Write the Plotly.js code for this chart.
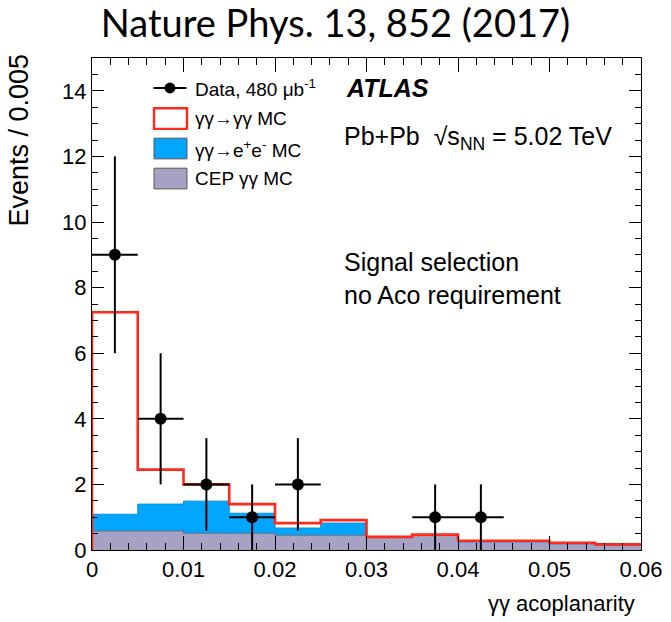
<!DOCTYPE html>
<html><head><meta charset="utf-8">
<script src="https://cdn.plot.ly/plotly-3.0.1.min.js"></script>
<style>body{margin:0;background:#fff}#c{width:671px;height:622px}</style>
</head><body><div id="c"></div>
<script>
// bin edges of the acoplanarity histogram (bin width 0.005)
const binEdges = [0,0.005,0.010,0.015,0.020,0.025,0.030,0.035,0.040,0.045,0.050,0.055,0.060];
// MC components per bin (stacked)
const cepMC    = [0.58,0.58,0.51,0.51,0.45,0.45,0.38,0.44,0.25,0.25,0.19,0.15];
const eeMC     = [0.51,0.82,0.98,0.61,0.22,0.37,0.02,0.02,0.00,0.00,0.00,0.00];
const signalMC = [6.16,1.05,0.51,0.28,0.15,0.09,0.00,0.01,0.03,0.03,0.03,0.02];
// data points
const dataX    = [0.0025,0.0075,0.0125,0.0175,0.0225,0.0375,0.0425];
const dataY    = [9,4,2,1,2,1,1];
const dataErr  = [3,2,1.41,1,1.41,1,1];
const dataXErr = [0.0025,0.0025,0.0025,0.0025,0.0025,0.0025,0.0025];
const xTicks = [0,0.01,0.02,0.03,0.04,0.05,0.06];
const xTickText = ["0","0.01","0.02","0.03","0.04","0.05","0.06"];
const yTicks = [0,2,4,6,8,10,12,14];

function stepY(v){ return v.concat([v[v.length-1]]); }
const lvlCep = cepMC.slice();
const lvlEe = cepMC.map((c,i)=>c+eeMC[i]);
const lvlTot = lvlEe.map((c,i)=>c+signalMC[i]);

const traces = [
  {x:binEdges, y:stepY(lvlCep), type:'scatter', mode:'lines', line:{shape:'hv', color:'#6e6985', width:1},
   fill:'tozeroy', fillcolor:'#a7a1c3', hoverinfo:'skip'},
  {x:binEdges, y:stepY(lvlEe), type:'scatter', mode:'lines', line:{shape:'hv', color:'#0a8fe0', width:1},
   fill:'tonexty', fillcolor:'#02a6fc', hoverinfo:'skip'},
  {x:[0].concat(binEdges), y:[0].concat(stepY(lvlTot)), type:'scatter', mode:'lines',
   line:{shape:'hv', color:'#ff2a1a', width:2.6}, hoverinfo:'skip'},
  {x:dataX, y:dataY, type:'scatter', mode:'markers', marker:{color:'#000', size:12},
   error_y:{type:'data', array:dataErr, color:'#000', thickness:2, width:0},
   error_x:{type:'data', array:dataXErr, color:'#000', thickness:2, width:0}}
];

const F = 'Liberation Sans, Arial, sans-serif';
const shapes = [
  {type:'line', xref:'paper', yref:'paper', x0:0.112, x1:0.172, y0:0.939, y1:0.939, line:{color:'#000', width:2}},
  {type:'circle', xref:'paper', yref:'paper', x0:0.132, x1:0.152, y0:0.928, y1:0.950, fillcolor:'#000', line:{width:0}},
  {type:'rect', xref:'paper', yref:'paper', x0:0.113, x1:0.173, y0:0.856, y1:0.898, fillcolor:'#fff', line:{color:'#ff2a1a', width:2.4}},
  {type:'rect', xref:'paper', yref:'paper', x0:0.113, x1:0.173, y0:0.795, y1:0.837, fillcolor:'#02a6fc', line:{color:'#555', width:1}},
  {type:'rect', xref:'paper', yref:'paper', x0:0.113, x1:0.173, y0:0.734, y1:0.776, fillcolor:'#a7a1c3', line:{color:'#555', width:1}}
];
const ann = (x,y,text,size,extra)=>Object.assign({xref:'paper', yref:'paper', x:x, y:y, text:text, showarrow:false,
  xanchor:'left', yanchor:'middle', font:{family:F, size:size, color:'#000'}}, extra||{});
const annotations = [
  ann(0.184,0.939,'Data, 480 μb<sup>-1</sup>',19),
  ann(0.184,0.877,'γγ→γγ MC',19),
  ann(0.184,0.816,'γγ→e<sup>+</sup>e<sup>-</sup> MC',19),
  ann(0.184,0.755,'CEP γγ MC',19),
  ann(0.459,0.939,'<b><i>ATLAS</i></b>',25),
  ann(0.455,0.837,'Pb+Pb  √s<sub>NN</sub> = 5.02 TeV',25),
  ann(0.455,0.585,'Signal selection',25),
  ann(0.455,0.518,'no Aco requirement',25),
  {xref:'paper', yref:'paper', x:0.993, y:-0.108, text:'γγ acoplanarity', showarrow:false, xanchor:'right', yanchor:'middle',
   font:{family:F, size:22, color:'#000'}},
  {xref:'paper', yref:'paper', x:-0.133, y:1.014, text:'Events / 0.005', showarrow:false, textangle:-90, xanchor:'center', yanchor:'top',
   font:{family:F, size:27, color:'#000'}}
];

const layout = {
  width:671, height:622,
  margin:{l:92, r:30, t:58, b:72},
  paper_bgcolor:'#fff', plot_bgcolor:'#fff',
  showlegend:false,
  title:{text:'Nature Phys. 13, 852 (2017)', x:0.5, xanchor:'center', y:0.962, yanchor:'middle',
         font:{family:'Lato, Open Sans, sans-serif', size:38, color:'#000'}},
  xaxis:{range:[0,0.06], tickvals:xTicks, ticktext:xTickText, ticks:'inside', ticklen:14, tickwidth:1, tickcolor:'#000',
         minor:{dtick:0.002, ticks:'inside', ticklen:7, tickcolor:'#000'},
         showline:true, linecolor:'#000', linewidth:1, mirror:'allticks', showgrid:false, zeroline:false,
         tickfont:{family:F, size:22, color:'#000'}, fixedrange:true},
  yaxis:{range:[0,15], tickvals:yTicks, ticks:'inside', ticklen:12, tickwidth:1, tickcolor:'#000',
         minor:{dtick:0.5, ticks:'inside', ticklen:6, tickcolor:'#000'},
         showline:true, linecolor:'#000', linewidth:1, mirror:'allticks', showgrid:false, zeroline:false,
         tickfont:{family:F, size:22, color:'#000'}, fixedrange:true},
  shapes:shapes, annotations:annotations
};
Plotly.newPlot('c', traces, layout, {staticPlot:true});
</script></body></html>
